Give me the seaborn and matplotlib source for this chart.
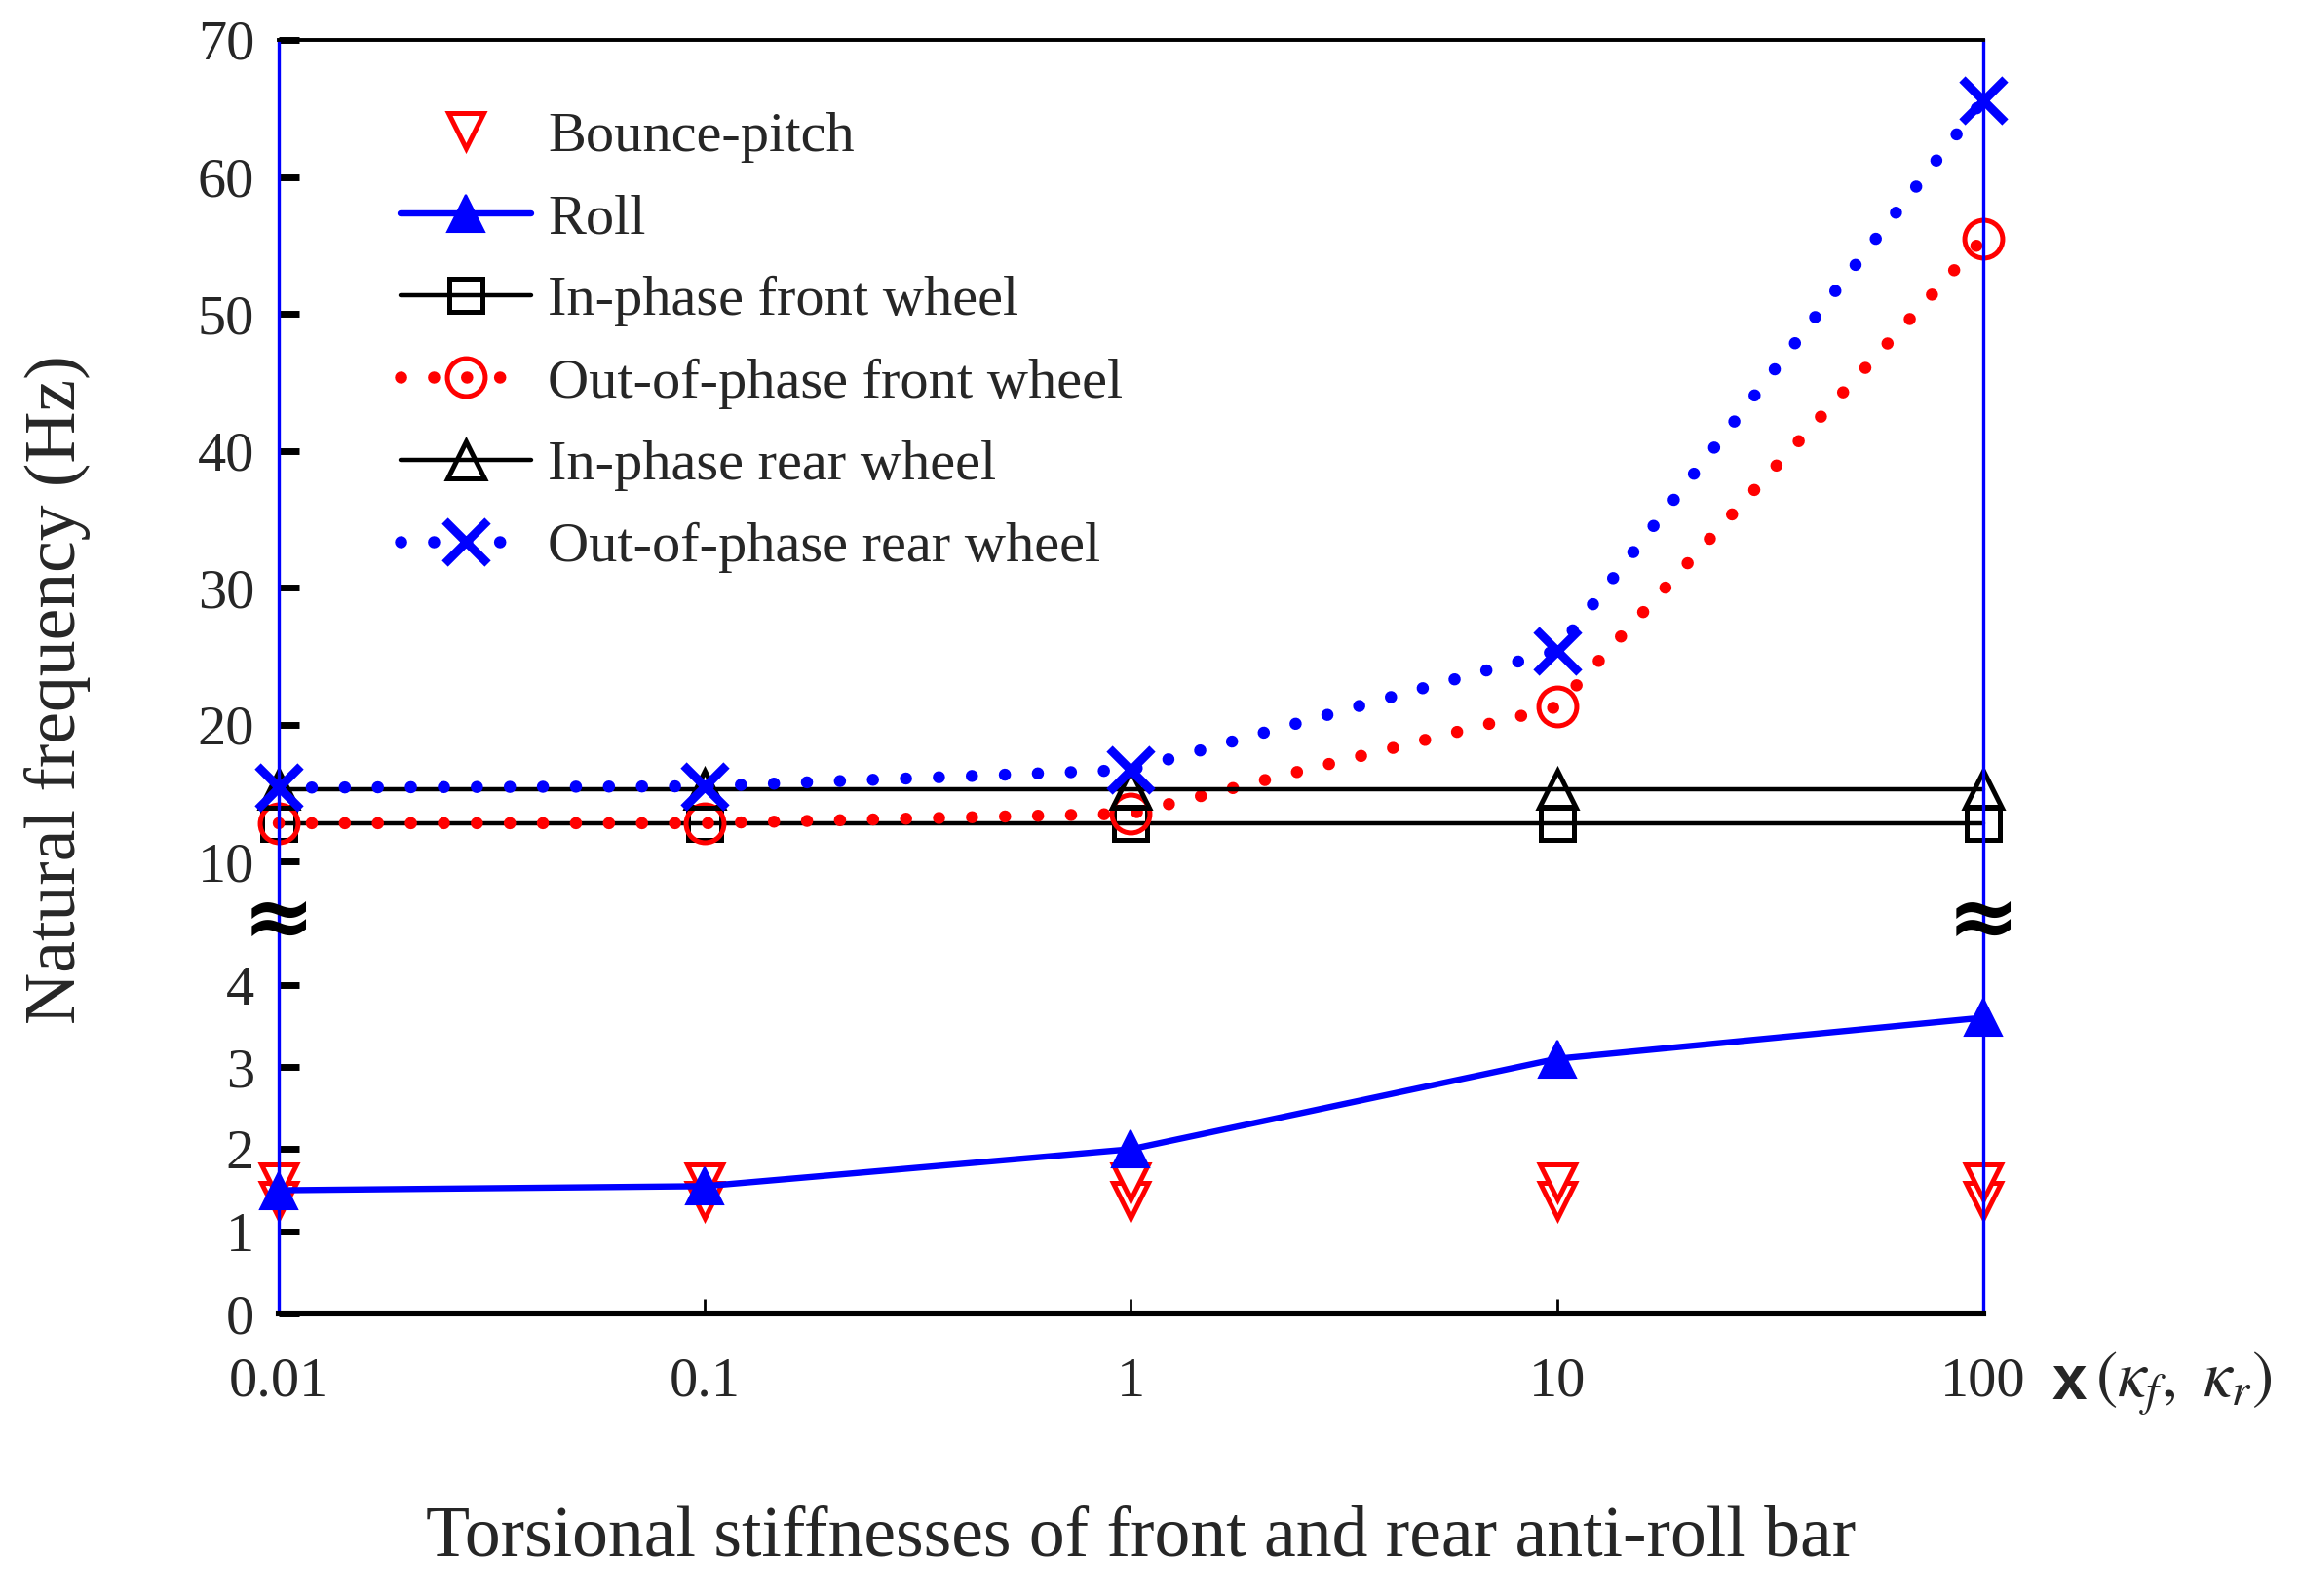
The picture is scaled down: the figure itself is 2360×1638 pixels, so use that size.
import numpy as np
import pandas as pd
import matplotlib
matplotlib.use('Agg')
import matplotlib.pyplot as plt
from matplotlib.ticker import NullLocator
import seaborn as sns

# dados
x_vals = [0.01, 0.1, 1, 10, 100]
x_labels = ['0.01', '0.1', '1', '10', '100']
bounce = [1.38, 1.38, 1.38, 1.38, 1.38]
pitch = [1.60, 1.60, 1.60, 1.60, 1.60]
roll = [1.50, 1.55, 2.00, 3.10, 3.60]
inphase_front = [12.8, 12.8, 12.8, 12.8, 12.8]
outphase_front = [12.8, 12.8, 13.5, 21.3, 55.5]
inphase_rear = [15.3, 15.3, 15.3, 15.3, 15.3]
outphase_rear = [15.4, 15.5, 16.7, 25.4, 65.6]
y_ticks = [0, 1, 2, 3, 4, 10, 20, 30, 40, 50, 60, 70]

df = pd.DataFrame({'x': x_vals, 'bounce': bounce, 'pitch': pitch, 'roll': roll,
                   'ipf': inphase_front, 'opf': outphase_front,
                   'ipr': inphase_rear, 'opr': outphase_rear})

sns.set_style('ticks')
plt.rcParams['font.family'] = ['Liberation Serif', 'DejaVu Serif']
plt.rcParams['mathtext.fontset'] = 'stix'

# eixo y quebrado: 0-4.75 ampliado, 5.6-70 normal
knots_y = [-10, 0, 4.75, 5.6, 70, 200]
knots_s = [-60, 0, 28.5, 28.6, 93.0, 223.0]


def fwd(v):
    return np.interp(v, knots_y, knots_s)


def inv(s):
    return np.interp(s, knots_s, knots_y)


fig = plt.figure(figsize=(11.8, 8.19), dpi=200)
ax = fig.add_axes([0.1212, 0.177, 0.741, 0.798])
ax.set_xscale('log')
ax.set_yscale('function', functions=(fwd, inv))

red = '#FF0000'
blue = '#0000FF'
dots = (0, (0.01, 2.7))

sns.lineplot(data=df, x='x', y='bounce', ax=ax, linestyle='none', marker='v', markersize=13,
             mfc='white', mec=red, mew=1.8, label='Bounce-pitch')
sns.lineplot(data=df, x='x', y='pitch', ax=ax, linestyle='none', marker='v', markersize=13,
             mfc='white', mec=red, mew=1.8, label='_nolegend_')
sns.lineplot(data=df, x='x', y='roll', ax=ax, color=blue, lw=2.3, marker='^', markersize=14,
             mfc=blue, mec=blue, label='Roll')
sns.lineplot(data=df, x='x', y='ipf', ax=ax, color='black', lw=1.6, marker='s', markersize=12,
             mfc='none', mec='black', mew=1.8, label='In-phase front wheel')
sns.lineplot(data=df, x='x', y='opf', ax=ax, color=red, lw=4.5, linestyle=dots, dash_capstyle='round',
             marker='o', markersize=14, mfc='none', mec=red, mew=1.8, label='Out-of-phase front wheel')
sns.lineplot(data=df, x='x', y='ipr', ax=ax, color='black', lw=1.6, marker='^', markersize=14,
             mfc='none', mec='black', mew=1.8, label='In-phase rear wheel')
sns.lineplot(data=df, x='x', y='opr', ax=ax, color=blue, lw=4.5, linestyle=dots, dash_capstyle='round',
             marker='x', markersize=16, mec=blue, mew=3.2, label='Out-of-phase rear wheel')

for ln in ax.get_lines():
    ln.set_clip_on(False)

ax.set_xlim(0.01, 100)
ax.set_ylim(0, 70)
ax.set_xticks(x_vals)
ax.set_xticklabels(x_labels)
ax.xaxis.set_minor_locator(NullLocator())
ax.set_yticks(y_ticks)
ax.set_yticklabels([str(t) for t in y_ticks])
ax.yaxis.set_minor_locator(NullLocator())

ax.tick_params(axis='y', direction='in', length=7.5, width=2.5, color='black',
               labelsize=21, pad=9, right=False)
ax.tick_params(axis='x', direction='in', length=5.5, width=1.0, color='black',
               labelsize=21, pad=16, top=False)

ax.spines['left'].set_color(blue)
ax.spines['right'].set_color(blue)
ax.spines['left'].set_linewidth(1.2)
ax.spines['right'].set_linewidth(1.2)
ax.spines['top'].set_color('black')
ax.spines['top'].set_linewidth(1.4)
ax.spines['bottom'].set_color('black')
ax.spines['bottom'].set_linewidth(2.2)

# marcas de quebra
for xb in (0.01, 100):
    ax.text(xb, 5.17, '\u2248', ha='center', va='center', fontsize=32, fontweight='bold',
            family='DejaVu Sans', color='black', zorder=10, clip_on=False)

ax.set_xlabel('')
ax.set_ylabel('')
fig.text(0.025, 0.568, 'Natural frequency (Hz)', rotation=90, ha='center', va='center', fontsize=26.5)
fig.text(0.496, 0.036, 'Torsional stiffnesses of front and rear anti-roll bar', ha='center', va='center',
         fontsize=26.5)
fig.text(0.892, 0.134, 'x', ha='left', va='center', fontsize=23, family='Liberation Sans',
         fontweight='bold')
fig.text(0.911, 0.133, r'$(\kappa_f,\ \kappa_r)$', ha='left', va='center', fontsize=24)

# legenda
lines = [ln for ln in ax.get_lines() if not ln.get_label().startswith('_')]
leg = ax.legend(handles=lines, labels=[ln.get_label() for ln in lines], loc='upper left',
                bbox_to_anchor=(0.058, 0.962), frameon=False, fontsize=21, handlelength=2.3,
                handletextpad=0.3, labelspacing=0.54, borderaxespad=0, numpoints=1)

fig.savefig('out.png', dpi=200)
